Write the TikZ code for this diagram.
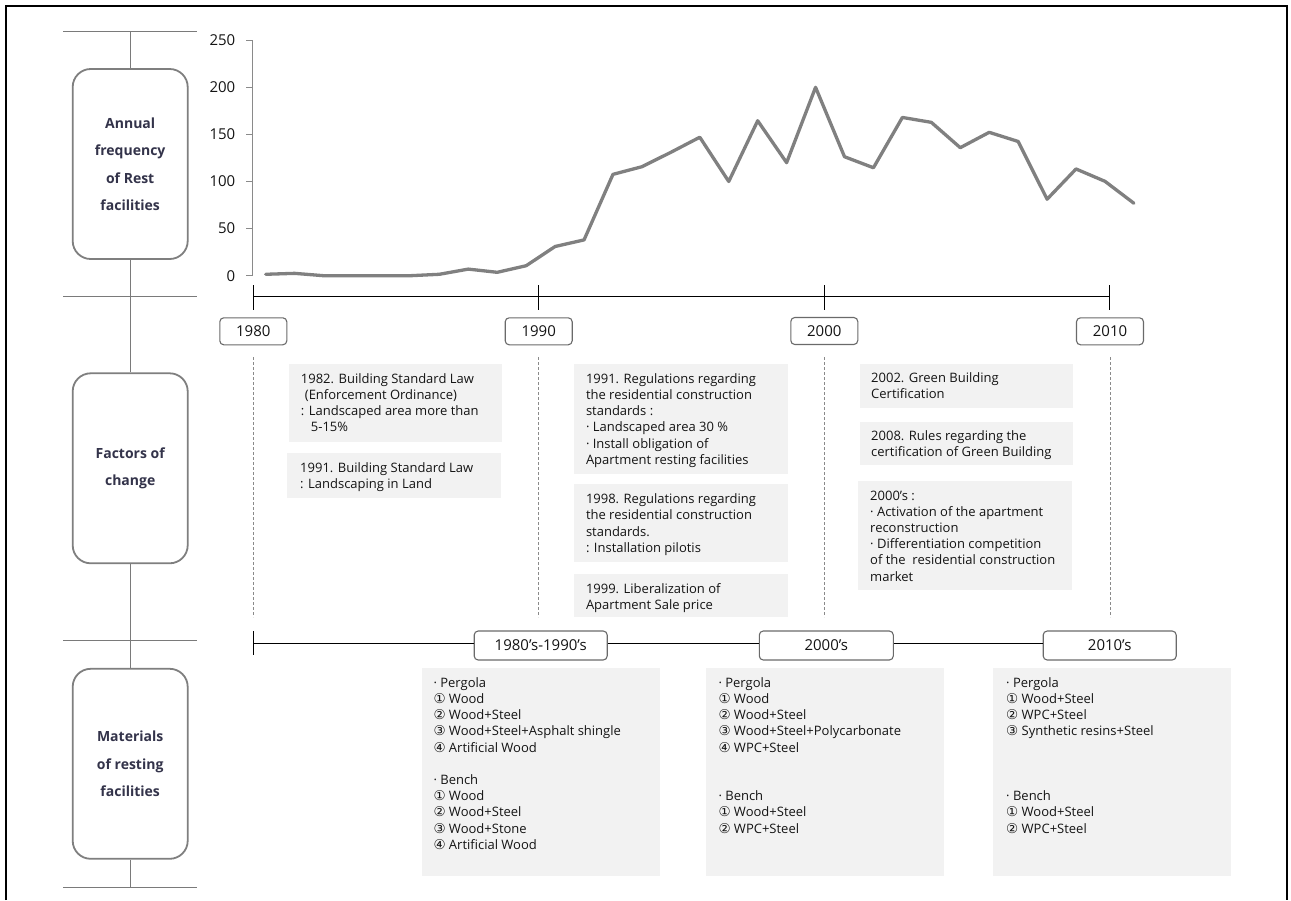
\documentclass[tikz,border=0pt]{standalone}
\usepackage{fontspec}
\setmainfont{Open Sans}
\newfontfamily\symfont{DejaVu Sans}
\definecolor{txtcol}{HTML}{141414}
\definecolor{labeltext}{HTML}{33334A}
\definecolor{boxgray}{HTML}{7F7F7F}
\definecolor{sepgray}{HTML}{7A7A7A}
\definecolor{fillgray}{HTML}{F2F2F2}
\definecolor{chartgray}{HTML}{808080}
\definecolor{axisgray}{HTML}{8A8A8A}
\definecolor{ygray}{HTML}{6A6A6A}
\newcommand{\circnum}[1]{{\symfont\fontsize{13.5}{14}\selectfont #1}}
\newcommand{\txtlines}[4]{%
  \foreach \ln [count=\i from 0] in {#4}{%
    \node[txt, anchor=base west] (#1\i) at (#2, {#3+16.2*\i}) {\ln};
  }%
}
\tikzset{
  sepline/.style={draw=sepgray, line width=1.2pt},
  lbox/.style={draw=boxgray, line width=1.8pt, rounded corners=18pt, fill=white,
    minimum width=115pt, minimum height=190pt, align=center, inner sep=0pt,
    font=\bfseries\fontsize{14}{27.5}\selectfont, text=labeltext},
  ybox/.style={draw=ygray, line width=1.1pt, rounded corners=4pt, fill=white,
    minimum width=67pt, minimum height=27pt, inner sep=0pt,
    font=\fontsize{15}{18}\selectfont, text=txtcol},
  dbox/.style={ybox, minimum width=133pt, minimum height=29pt},
  txt/.style={inner sep=0pt, font=\fontsize{13}{16}\selectfont, text=txtcol},
  axlab/.style={inner sep=0pt, anchor=east, font=\fontsize{15}{18}\selectfont, text=txtcol},
  tline/.style={draw=black, line width=1pt},
  guide/.style={draw=axisgray, line width=0.8pt, dash pattern=on 3pt off 2pt},
  chartline/.style={draw=chartgray, line width=3.3pt, line join=round, line cap=round},
  infill/.style={fill=fillgray}
}
\begin{document}
\begin{tikzpicture}[x=1pt,y=-1pt]
\useasboundingbox (0,0) rectangle (1291,900);
\fill[white] (0,0) rectangle (1291,900);
% frame
\draw[line width=1.6pt, black] (6,900) -- (6,6) -- (1287,6) -- (1287,900);

% ---------- left column ----------
\foreach \yy in {31.7,296.7,640.7,887.3}{\draw[sepline] (63.3,\yy) -- (196.7,\yy);}
\coordinate (s0) at (130.2,31.7);
\coordinate (s3) at (130.2,887.3);
\node[lbox] (L1) at (130.2,164) {Annual\\frequency\\of Rest\\facilities};
\node[lbox] (L2) at (130.2,468.3) {Factors of\\change};
\node[lbox] (L3) at (130.2,763.8) {Materials\\of resting\\facilities};
\draw[sepline] (s0) -- (L1.north);
\draw[sepline] (L1.south) -- (L2.north);
\draw[sepline] (L2.south) -- (L3.north);
\draw[sepline] (L3.south) -- (s3);

% ---------- chart ----------
\draw[draw=axisgray, line width=1pt] (252.5,40.2) -- (252.5,275.7);
\foreach \k/\v in {0/0,1/50,2/100,3/150,4/200,5/250}{
  \draw[draw=axisgray, line width=1pt] (246,{275.7-47.1*\k}) -- (252.5,{275.7-47.1*\k});
  \node[axlab] (yl\k) at (235.5,{275.7-47.1*\k}) {\v};
}
\begin{scope}[shift={(265.7,275.7)}, x=28.94pt, y=0.942pt]
\draw[chartline] plot coordinates {(0,1.5) (1,2.5) (2,0) (3,0) (4,0) (5,0) (6,1.5) (7,7) (8,3.6) (9,10.6)
 (10,31) (11,38) (12,107.6) (13,115.7) (14,131) (15,147) (16,100) (17,164.5) (18,120) (19,200)
 (20,126.3) (21,114.6) (22,168) (23,162.8) (24,135.9) (25,152.2) (26,142.5) (27,81.2) (28,113.3) (29,100.2) (30,76.9)};
\end{scope}

% ---------- timeline 1 ----------
\coordinate (t1a) at (253.3,296.7);
\coordinate (t1b) at (1109.3,296.7);
\draw[tline] (t1a) -- (t1b);
\foreach \xx in {253.3,538.3,824,1109.3}{\draw[tline] (\xx,285) -- (\xx,310);}
\node[ybox] (y1980) at (253.3,331.3) {1980};
\node[ybox] (y1990) at (538.7,331.3) {1990};
\node[ybox] (y2000) at (824.3,331) {2000};
\node[ybox] (y2010) at (1110,331.3) {2010};
\foreach \nm in {y1980,y1990,y2000,y2010}{
  \draw[guide] ([yshift=-12pt]\nm.south) -- ([yshift=-272pt]\nm.south);
}

% ---------- factors of change ----------
\fill[infill] (288.5,364) rectangle (502,441.7);
\fill[infill] (287.3,453.3) rectangle (500.9,497.7);
\fill[infill] (574.3,364) rectangle (787.9,474);
\fill[infill] (574.3,484.3) rectangle (787.9,562.3);
\fill[infill] (574.3,574) rectangle (787.9,617.3);
\fill[infill] (860,364) rectangle (1073.3,408.3);
\fill[infill] (860,421.7) rectangle (1073.3,465);
\fill[infill] (858.3,481) rectangle (1071.7,590);

\txtlines{A}{300.7}{383.3}{1982. Building Standard Law,\hspace{4pt}(Enforcement Ordinance),: Landscaped area more than,\hspace{10pt}5-15\%}
\txtlines{B}{300}{472.3}{1991. Building Standard Law,: Landscaping in Land}
\txtlines{C}{585.8}{383.3}{1991. Regulations regarding,the residential construction,standards :,· Landscaped area 30 \%,· Install obligation of,Apartment resting facilities}
\txtlines{D}{585.8}{503.6}{1998. Regulations regarding,the residential construction,standards.,: Installation pilotis}
\txtlines{E}{585.8}{593.3}{1999. Liberalization of,Apartment Sale price}
\txtlines{F}{871}{382.7}{2002. Green Building,Certification}
\txtlines{G}{871}{440.3}{2008. Rules regarding the,certification of Green Building}
\txtlines{H}{870}{500}{2000’s :,· Activation of the apartment,reconstruction,· Differentiation competition,of the \ residential construction,market}

% ---------- timeline 2 ----------
\coordinate (t2a) at (253.3,643.3);
\draw[tline] (253.3,631) -- (253.3,655);
\node[dbox] (d1) at (540.7,645.5) {1980’s-1990’s};
\node[dbox, minimum width=134pt] (d2) at (826.3,645.5) {2000’s};
\node[dbox] (d3) at (1109.7,645.5) {2010’s};
\draw[tline] (t2a) -- (t2a -| d1.west);
\draw[tline] (d1.east |- t2a) -- (d2.west |- t2a);
\draw[tline] (d2.east |- t2a) -- (d3.west |- t2a);

% ---------- materials ----------
\fill[infill] (421.7,668.3) rectangle (660,875.7);
\fill[infill] (706,668.3) rectangle (944,875.7);
\fill[infill] (992.7,668.3) rectangle (1230.7,875.7);

\txtlines{Ma}{433.3}{687.3}{· Pergola,\circnum{①} Wood,\circnum{②} Wood+Steel,\circnum{③} Wood+Steel+Asphalt shingle,\circnum{④} Artificial Wood}
\txtlines{Mb}{433.3}{784.5}{· Bench,\circnum{①} Wood,\circnum{②} Wood+Steel,\circnum{③} Wood+Stone,\circnum{④} Artificial Wood}
\txtlines{Na}{718.3}{687.3}{· Pergola,\circnum{①} Wood,\circnum{②} Wood+Steel,\circnum{③} Wood+Steel+Polycarbonate,\circnum{④} WPC+Steel}
\txtlines{Nb}{718.3}{800.7}{· Bench,\circnum{①} Wood+Steel,\circnum{②} WPC+Steel}
\txtlines{Pa}{1006}{687.3}{· Pergola,\circnum{①} Wood+Steel,\circnum{②} WPC+Steel,\circnum{③} Synthetic resins+Steel}
\txtlines{Pb}{1006}{800.7}{· Bench,\circnum{①} Wood+Steel,\circnum{②} WPC+Steel}
\end{tikzpicture}
\end{document}
